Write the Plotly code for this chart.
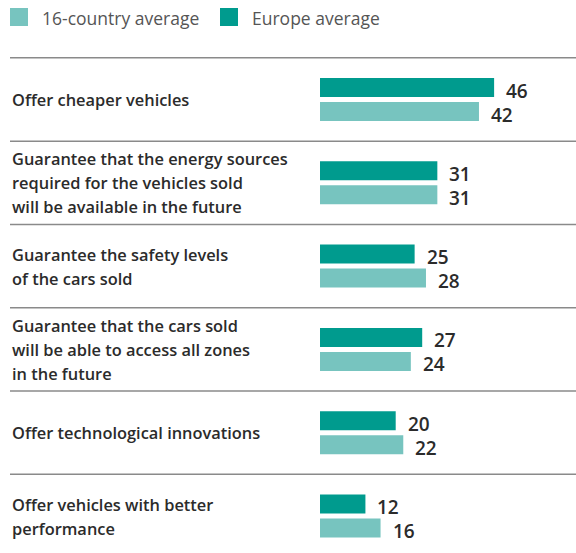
import plotly.graph_objects as go

# Survey statements (top to bottom) and the share of respondents per region
statements = [
    "Offer cheaper vehicles",
    "Guarantee that the energy sources<br>required for the vehicles sold<br>will be available in the future",
    "Guarantee the safety levels<br>of the cars sold",
    "Guarantee that the cars sold<br>will be able to access all zones<br>in the future",
    "Offer technological innovations",
    "Offer vehicles with better<br>performance",
]
europe_avg = [46, 31, 25, 27, 20, 12]
country16_avg = [42, 31, 28, 24, 22, 16]

series_names = ["16-country average", "Europe average"]

DARK = "#009b8e"
LIGHT = "#77c4bf"
TEXT = "#2b2b2b"
FONT = "Open Sans"

W, H = 576, 553
BAR_X0 = 320          # pixel where bars start
PX_PER_UNIT = 3.785   # horizontal scale
ROW_PX = 83.3         # height of one statement row
FIRST_CENTER = 99.5   # pixel centre of the first row

fig = go.Figure()
fig.add_trace(go.Bar(
    y=statements, x=europe_avg, orientation="h", name=series_names[1],
    marker=dict(color=DARK, line=dict(width=0)), showlegend=False,
))
fig.add_trace(go.Bar(
    y=statements, x=country16_avg, orientation="h", name=series_names[0],
    marker=dict(color=LIGHT, line=dict(width=0)), showlegend=False,
))

annotations = []
shapes = []

# value labels next to each bar
for i, s in enumerate(statements):
    for val, ys in ((europe_avg[i], 9), (country16_avg[i], -15)):
        annotations.append(dict(
            x=val, y=s, xref="x", yref="y", text=str(val), showarrow=False,
            xanchor="left", yanchor="middle", xshift=10, yshift=ys,
            font=dict(family=FONT, size=19, color=TEXT, weight=600),
        ))

# statement labels, one annotation per line for a looser leading
LINE_PX = 24
for i, s in enumerate(statements):
    lines = s.split("<br>")
    n = len(lines)
    for j, ln in enumerate(lines):
        annotations.append(dict(
            x=10 / W, y=s, xref="paper", yref="y", text=ln, showarrow=False,
            xanchor="left", yanchor="middle",
            yshift=((n - 1) / 2 - j) * LINE_PX,
            font=dict(family=FONT, size=16.4, color=TEXT, weight=600),
        ))

# row separators
for k in range(len(statements)):
    shapes.append(dict(
        type="line", xref="paper", yref="y", x0=10 / W, x1=1,
        y0=k - 0.5, y1=k - 0.5, line=dict(color="#8a8a8a", width=1.5),
    ))

# legend drawn at the top
legend_items = [(series_names[0], LIGHT, 10), (series_names[1], DARK, 220)]
for name, col, px in legend_items:
    shapes.append(dict(
        type="rect", xref="paper", yref="paper",
        x0=px / W, x1=(px + 18) / W, y0=1 - 26 / H, y1=1 - 8 / H,
        fillcolor=col, line=dict(width=0),
    ))
    annotations.append(dict(
        x=(px + 30) / W, y=1 - 18 / H, xref="paper", yref="paper", text=name,
        showarrow=False, xanchor="left", yanchor="middle",
        font=dict(family=FONT, size=17.5, color="#555555"),
    ))

y_top = -FIRST_CENTER / ROW_PX
y_bottom = (H - FIRST_CENTER) / ROW_PX

fig.update_layout(
    width=W, height=H,
    margin=dict(l=0, r=0, t=0, b=0),
    paper_bgcolor="white", plot_bgcolor="white",
    barmode="group", bargap=0.424, bargroupgap=0.208,
    xaxis=dict(domain=[BAR_X0 / W, 1], range=[0, (W - BAR_X0) / PX_PER_UNIT],
               visible=False, fixedrange=True),
    yaxis=dict(type="category", categoryorder="array", categoryarray=statements,
               range=[y_bottom, y_top], visible=False, fixedrange=True),
    annotations=annotations, shapes=shapes,
    showlegend=False,
)

fig.write_html("out.html")
